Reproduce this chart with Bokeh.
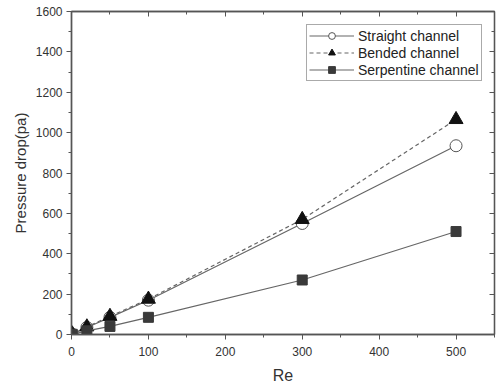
from bokeh.plotting import figure
from bokeh.models import (LinearAxis, Range1d, Legend, LegendItem, SingleIntervalTicker,
                          CustomLabelingPolicy)
from bokeh.embed import file_html
from bokeh.resources import INLINE

re_vals = [1, 20, 50, 100, 300, 500]
straight = [2, 35, 85, 170, 550, 935]
bended = [3, 38, 90, 175, 570, 1065]
serpentine = [1, 18, 40, 85, 270, 510]

FONT = "Liberation Sans"
GRAY = "#555555"
LINE = "#666666"

p = figure(frame_width=423, frame_height=323, output_backend="svg", toolbar_location=None,
           x_range=Range1d(0, 550), y_range=Range1d(0, 1600),
           min_border_left=71, min_border_right=0, min_border_top=10, min_border_bottom=40)
p.grid.visible = False
p.outline_line_color = GRAY
p.outline_line_width = 1.3

for ax in (p.xaxis[0], p.yaxis[0]):
    ax.major_tick_in = 0
    ax.major_tick_out = 5
    ax.minor_tick_in = 0
    ax.minor_tick_out = 3
    ax.axis_line_color = GRAY
    ax.axis_line_width = 1.5
    ax.major_tick_line_color = GRAY
    ax.minor_tick_line_color = GRAY
    ax.major_label_text_font = FONT
    ax.major_label_text_font_size = "12px"
    ax.major_label_text_color = "#333333"
    ax.axis_label_text_font = FONT
    ax.axis_label_text_font_style = "normal"
    ax.axis_label_text_color = "#333333"

p.xaxis[0].ticker = SingleIntervalTicker(interval=100, num_minor_ticks=2)
p.yaxis[0].ticker = SingleIntervalTicker(interval=200, num_minor_ticks=2)
p.xaxis[0].axis_label = "Re"
p.yaxis[0].axis_label = "Pressure drop(pa)"
p.xaxis[0].axis_label_text_font_size = "16px"
p.yaxis[0].axis_label_text_font_size = "15px"
p.xaxis[0].major_label_standoff = 7
p.xaxis[0].axis_label_standoff = 8
p.yaxis[0].major_label_standoff = 4
p.yaxis[0].axis_label_standoff = 4

hide = CustomLabelingPolicy(code="for (const i of indices) indices.unset(i); return indices")
for loc, interval in (("above", 100), ("right", 200)):
    ax = LinearAxis(ticker=SingleIntervalTicker(interval=interval, num_minor_ticks=2))
    ax.major_tick_in = 5
    ax.major_tick_out = 0
    ax.minor_tick_in = 3
    ax.minor_tick_out = 0
    ax.major_label_policy = hide
    ax.major_label_standoff = 0
    ax.axis_line_color = GRAY
    ax.axis_line_width = 1.3
    ax.major_tick_line_color = GRAY
    ax.minor_tick_line_color = GRAY
    p.add_layout(ax, loc)

r1l = p.line(re_vals, straight, line_color=LINE, line_width=1.2)
r1m = p.scatter(re_vals, straight, marker="circle", size=12, fill_color="white", line_color=GRAY, line_width=1)
r2l = p.line(re_vals, bended, line_color=LINE, line_width=1.2, line_dash="4 3")
r2m = p.scatter(re_vals, bended, marker="triangle", size=14, fill_color="#111111", line_color="#111111")
r3l = p.line(re_vals, serpentine, line_color=LINE, line_width=1.2)
r3m = p.scatter(re_vals, serpentine, marker="square", size=10, fill_color="#3a3a3a", line_color="#3a3a3a")

legend = Legend(items=[
    LegendItem(label="Straight channel", renderers=[r1l, r1m]),
    LegendItem(label="Bended channel", renderers=[r2l, r2m]),
    LegendItem(label="Serpentine channel", renderers=[r3l, r3m]),
], location=(235, 253))
legend.label_text_font = FONT
legend.label_text_font_size = "14px"
legend.label_text_color = "#222222"
legend.label_height = 17
legend.border_line_color = GRAY
legend.border_line_width = 1.3
legend.glyph_width = 45
legend.glyph_height = 17
legend.spacing = 0
legend.padding = 2
legend.margin = 0
legend.label_standoff = 4
legend.background_fill_alpha = 1
p.add_layout(legend)

open("out.html", "w").write(file_html(p, INLINE))
